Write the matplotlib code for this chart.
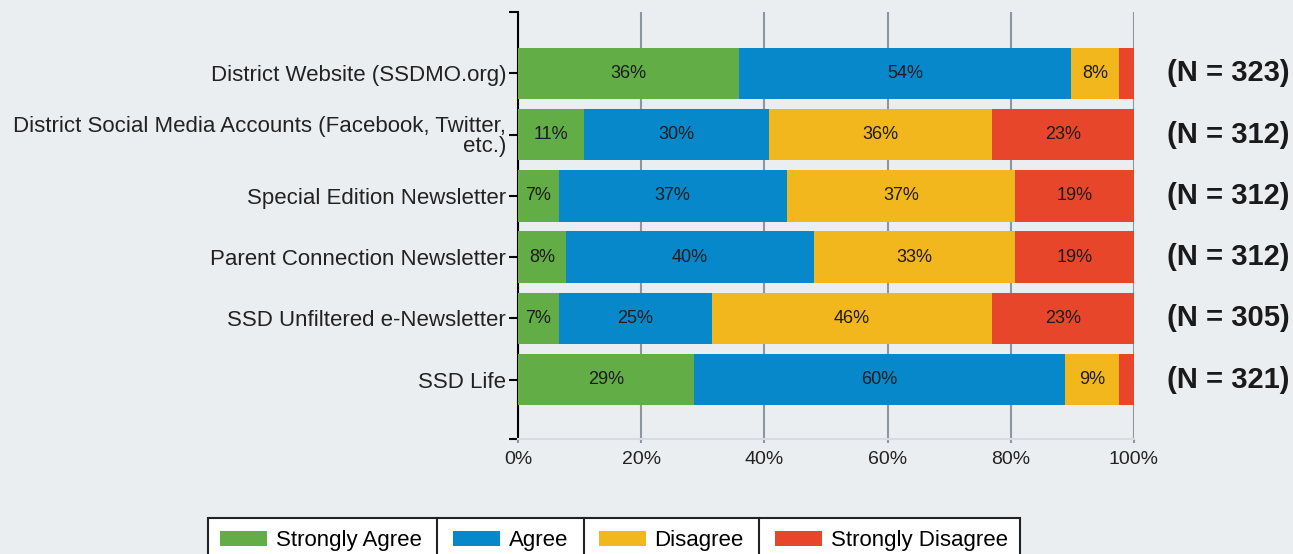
import matplotlib
matplotlib.use("Agg")
import matplotlib.pyplot as plt
from matplotlib.lines import Line2D
from matplotlib.ticker import FixedLocator
import numpy as np

plt.rcParams['font.family'] = ['Liberation Sans', 'DejaVu Sans']

# data (percent of respondents)
categories = [
    "District Website (SSDMO.org)",
    "District Social Media Accounts (Facebook, Twitter,\netc.)",
    "Special Edition Newsletter",
    "Parent Connection Newsletter",
    "SSD Unfiltered e-Newsletter",
    "SSD Life",
]
strongly_agree = [35.8, 10.7, 6.6, 7.8, 6.6, 28.6]
agree = [54.0, 30.0, 37.0, 40.2, 24.9, 60.2]
disagree = [7.8, 36.2, 37.1, 32.7, 45.5, 8.8]
strongly_disagree = [2.4, 23.1, 19.3, 19.3, 23.0, 2.4]
n_counts = [323, 312, 312, 312, 305, 321]

series_names = ["Strongly Agree", "Agree", "Disagree", "Strongly Disagree"]
series_vals = [strongly_agree, agree, disagree, strongly_disagree]
colors = ["#63ad47", "#0788ca", "#f3b71e", "#e8462a"]
BG = "#ebeef1"

fig = plt.figure(figsize=(12.93, 5.54), dpi=100, facecolor=BG)
ax = fig.add_axes([518 / 1293, 1 - 439 / 554, (1134 - 518) / 1293, (439 - 12) / 554])
ax.set_facecolor(BG)

y = np.arange(len(categories))
left = np.zeros(len(categories))
for name, vals, c in zip(series_names, series_vals, colors):
    vals = np.array(vals)
    ax.barh(y, vals, left=left, height=0.84, color=c, label=name, zorder=3)
    for yi, l, v in zip(y, left, vals):
        if v >= 5:
            ax.text(l + v / 2, yi, f"{round(v):d}%", ha="center", va="center",
                    fontsize=13, color="#1c1c1c", zorder=4)
    left += vals

for yi, n in zip(y, n_counts):
    ax.text(105.4, yi, f"(N = {n})", ha="left", va="center", fontsize=21,
            fontweight="bold", color="#1a1a1a", clip_on=False)

ax.set_xlim(0, 100)
ax.set_ylim(5.97, -1.0)
ax.set_xticks([0, 20, 40, 60, 80, 100])
ax.set_xticklabels([f"{v}%" for v in [0, 20, 40, 60, 80, 100]], fontsize=14, color="#222222")
ax.set_yticks(y)
ax.set_yticklabels(categories, fontsize=16, color="#222222", linespacing=0.92)
ax.yaxis.set_minor_locator(FixedLocator([-1.0, 5.97]))

ax.xaxis.grid(True, color="#8d969f", linewidth=1.5)
ax.set_axisbelow(True)
ax.tick_params(axis="x", length=3, width=1.5, color="#8d969f", pad=6)
ax.tick_params(axis="y", which="both", length=6.5, width=1.5, color="black", pad=2)

for s in ["top", "right"]:
    ax.spines[s].set_visible(False)
ax.spines["left"].set_linewidth(1.5)
ax.spines["left"].set_color("black")
ax.spines["bottom"].set_color("#d6dbe1")
ax.spines["bottom"].set_linewidth(1.5)

handles, labels = ax.get_legend_handles_labels()
leg = fig.legend(handles, labels, loc="upper center", ncol=4,
                 bbox_to_anchor=(614 / 1293, 1 - 518 / 554), borderaxespad=0,
                 fontsize=16, frameon=True, fancybox=False, edgecolor="#222222",
                 facecolor="white", framealpha=1, handlelength=2.1, handleheight=0.7,
                 handletextpad=0.4, columnspacing=1.4, borderpad=0.55)
leg.get_frame().set_linewidth(1.5)

# draw separators between legend columns
fig.canvas.draw()
inv = fig.transFigure.inverted()
texts = leg.get_texts()
patches = leg.legend_handles
fb = leg.get_frame().get_window_extent()
for t, p in zip(texts[:-1], patches[1:]):
    x_right = t.get_window_extent().x1
    x_left = p.get_window_extent().x0
    xm = (x_right + x_left) / 2
    (fx, fy0), (_, fy1) = inv.transform([(xm, fb.y0), (xm, fb.y1)])
    fig.add_artist(Line2D([fx, fx], [fy0, fy1], color="#222222", linewidth=1.5,
                          transform=fig.transFigure, zorder=10))

fig.savefig("out.png", dpi=100, facecolor=BG)
